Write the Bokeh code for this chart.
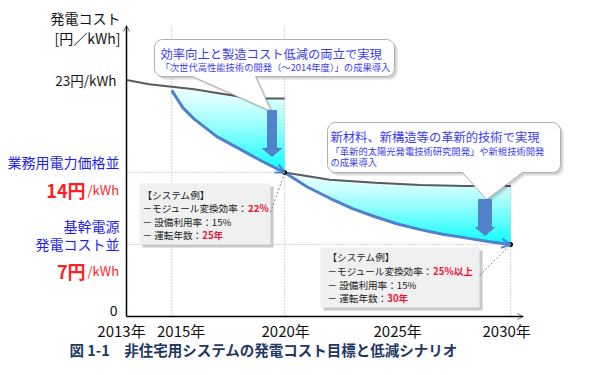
import numpy as np
from bokeh.plotting import figure
from bokeh.models import Arrow, OpenHead, Range1d
from bokeh.core.properties import value
from bokeh.embed import file_html
from bokeh.resources import INLINE

# ---------------- data ----------------
x_ticks = [2013, 2015, 2020, 2025, 2030]
x_tick_labels = ["2013年", "2015年", "2020年", "2025年", "2030年"]

price_years = [2013, 2014, 2015, 2016, 2017, 2018, 2019, 2020]
price_cost = [23.0, 22.6, 22.35, 22.1, 21.75, 21.4, 21.2, 21.2]

stage1_years = [2015, 2015.5, 2016, 2017, 2018, 2019, 2020]
stage1_cost = [22.0, 20.3, 19.2, 17.5, 16.3, 15.1, 14.0]

base2_years = [2020, 2022, 2024, 2026, 2028, 2030]
base2_cost = [14.0, 13.3, 13.0, 12.8, 12.7, 12.7]

stage2_years = [2020, 2021, 2022, 2023, 2024, 2025, 2026, 2027, 2028, 2029, 2030]
stage2_cost = [14.0, 12.6, 11.5, 10.5, 9.7, 9.0, 8.45, 8.0, 7.65, 7.3, 7.0]

start_cost = 23
target_2020 = 14
target_2030 = 7

# ---------------- geometry (screen px of the page) ----------------
SX0, XS = 134.0, 22.6     # screen x of 2013, px per year
SY0, YS = 324.0, 10.28    # screen y of 0, px per unit
W, H = 579, 359

def X(sx):
    return 2013 + (sx - SX0) / XS

def Y(sy):
    return (SY0 - sy) / YS

x_start = X(8); x_end = X(8 + W)
y_end = Y(8); y_start = Y(8 + H)

p = figure(width=W, height=H, x_range=Range1d(x_start, x_end), y_range=Range1d(y_start, y_end),
           output_backend="svg", toolbar_location=None, min_border=0,
           x_axis_type=None, y_axis_type=None, outline_line_color=None,
           background_fill_color="white", border_fill_color="white")
p.grid.visible = False

FONT = value("Noto Sans CJK JP")
BLUE = "#4F81CF"
GRAY = "#5A5A5A"
LBLUE = "#1E1EF0"
RED = "#FF1F1F"
CRED = "#E8153A"
CBLUE = "#3B3BF2"

# ---------------- gradient fills ----------------
def gradient_fill(xs_top, ys_top, xs_bot, ys_bot, x0, x1, n=36):
    xx = np.linspace(x0, x1, 300)
    top = np.interp(xx, xs_top, ys_top)
    bot = np.interp(xx, xs_bot, ys_bot)
    lo_all, hi_all = bot.min(), top.max()
    levels = np.linspace(lo_all, hi_all, n + 1)
    for k in range(n):
        lo, hi = levels[k], levels[k + 1] + (hi_all - lo_all) / n * 0.4
        y1 = np.clip(bot, lo, hi)
        y2 = np.clip(top, lo, hi)
        t = 1 - (k + 0.5) / n   # 1 at bottom, 0 at top
        t = t ** 1.25
        r = int(round(238 - 232 * t)); g = int(round(255 - 2 * t)); b = 255
        p.varea(x=xx, y1=y1, y2=y2, fill_color=(r, g, b))

gradient_fill(price_years, price_cost, stage1_years, stage1_cost, stage1_years[0], stage1_years[-1])
gradient_fill(base2_years, base2_cost, stage2_years, stage2_cost, stage2_years[0], stage2_years[-1])

# ---------------- dotted grid ----------------
grid_kw = dict(line_color="#A8A8A8", line_dash="1 2", line_width=1)
p.segment(x0=[x_ticks[1], x_ticks[2], x_ticks[4]], y0=[0, 0, 0],
          x1=[x_ticks[1], x_ticks[2], x_ticks[4]], y1=[Y(33), Y(33), base2_cost[-1]], **grid_kw)
p.segment(x0=[x_ticks[0], x_ticks[0]], y0=[target_2020, target_2030],
          x1=[x_ticks[2], x_ticks[4]], y1=[target_2020, target_2030], **grid_kw)
p.segment(x0=[X(487)], y0=[base2_cost[-1]], x1=[base2_years[-1]], y1=[base2_cost[-1]], **grid_kw)

# ---------------- lines ----------------
p.line(price_years, price_cost, line_color=GRAY, line_width=2)
p.line(base2_years, base2_cost, line_color=GRAY, line_width=2)
p.line(stage1_years, stage1_cost, line_color=BLUE, line_width=3)
p.line(stage2_years, stage2_cost, line_color=BLUE, line_width=3)
p.scatter([stage1_years[-1], stage2_years[-1]], [stage1_cost[-1], stage2_cost[-1]],
          size=4, color="black")

for yrs, cst in ((stage1_years, stage1_cost), (stage2_years, stage2_cost)):
    p.add_layout(Arrow(x_start=yrs[-2], y_start=cst[-2], x_end=yrs[-1], y_end=cst[-1],
                       line_alpha=0,
                       end=OpenHead(size=9, line_color=BLUE, line_width=2)))

# ---------------- system example boxes ----------------
def sbox(x0, y0, x1, y1):
    p.quad(left=[X(x0 + 3)], right=[X(x1 + 3)], top=[Y(y0 + 3)], bottom=[Y(y1 + 3)],
           fill_color="#C8C8C8", line_color=None)
    p.quad(left=[X(x0)], right=[X(x1)], top=[Y(y0)], bottom=[Y(y1)],
           fill_color="#F0F0F0", line_color=None)

sbox(147, 191, 278, 252)
sbox(328, 255, 487, 315)
p.segment(x0=[X(278), X(487)], y0=[Y(220), Y(283)],
          x1=[stage1_years[-1], stage2_years[-1]], y1=[stage1_cost[-1], stage2_cost[-1]],
          line_color="#8C8C8C", line_dash="2 2", line_width=1)

# ---------------- callouts ----------------
def bubble(x0, y0, x1, y1, r, tb0, tb1, tx, ty):
    pts = []
    def arc(cx, cy, a0, a1):
        for a in np.linspace(np.radians(a0), np.radians(a1), 8):
            pts.append((cx + r * np.cos(a), cy + r * np.sin(a)))
    arc(x1 - r, y0 + r, -90, 0)
    arc(x1 - r, y1 - r, 0, 90)
    pts.extend([(tb1, y1), (tx, ty), (tb0, y1)])
    arc(x0 + r, y1 - r, 90, 180)
    arc(x0 + r, y0 + r, 180, 270)
    return pts

def callout(*args):
    pts = bubble(*args)
    for dx, a in ((3.5, 0.07), (2, 0.12)):
        p.patch([X(a_ + dx) for a_, b_ in pts], [Y(b_ + dx) for a_, b_ in pts],
                fill_color="black", fill_alpha=a, line_color=None)
    p.patch([X(a_) for a_, b_ in pts], [Y(b_) for a_, b_ in pts],
            fill_color="white", line_color="#B0B0B0", line_width=1)

callout(162, 47, 402, 84, 8, 200, 263, 279, 119)
callout(335, 130, 568, 180, 8, 470, 530, 494, 207)

# ---------------- block arrows ----------------
def block_arrow(cx, y0, yb, ytip, sw, hw):
    xs = [cx - sw / 2, cx + sw / 2, cx + sw / 2, cx + hw / 2, cx, cx - hw / 2, cx - sw / 2]
    ys = [y0, y0, yb, yb, ytip, yb, yb]
    p.patch([X(v) for v in xs], [Y(v) for v in ys], fill_color="#5282CC",
            line_color="#4A76BC", line_width=0.8)

block_arrow(279.5, 118, 156, 164, 9, 19)
block_arrow(492.5, 207, 235, 243, 13, 19)

# ---------------- axes ----------------
p.add_layout(Arrow(x_start=x_ticks[0], y_start=0, x_end=X(531), y_end=0, line_width=1.5,
                   line_color="black", end=OpenHead(size=6, line_color="#777777", line_width=1)))
p.add_layout(Arrow(x_start=x_ticks[0], y_start=0, x_end=x_ticks[0], y_end=Y(33), line_width=1.5,
                   line_color="black", end=OpenHead(size=6, line_color="#777777", line_width=1)))

p.text(x=x_ticks, y=[0] * len(x_ticks), text=x_tick_labels, x_offset=[-5, 9.5, 1, 0, -4],
       y_offset=14, text_font=FONT, text_font_size="15px", text_color="#111111",
       text_align="center", text_baseline="middle")

def em(s):
    w = 0.0
    for c in s:
        if c == " ":
            w += 0.224
        elif c.isdigit():
            w += 0.553
        elif c == "%":
            w += 0.87
        elif ord(c) < 128:
            w += 0.55
        else:
            w += 1.0
    return w

def label(sx, sy, s, size, color, align="left", baseline="middle", bold=False):
    p.text(x=[X(sx)], y=[Y(sy)], text=[s], text_font=FONT, text_font_size=f"{size}px",
           text_color=color, text_align=align, text_baseline=baseline,
           text_font_style="bold" if bold else "normal")

# y-axis texts
label(128, 25, "発電コスト", 14, "#111111", align="right")
label(128, 45, "[円／kWh]", 14, "#111111", align="right")
p.text(x=[x_ticks[0]], y=[start_cost], text=["23円/kWh"], x_offset=-10, text_font=FONT,
       text_font_size="13.5px", text_color="#1A1A1A", text_align="right", text_baseline="middle")
p.text(x=[x_ticks[0]], y=[0], text=["0"], x_offset=-9, y_offset=-6, text_font=FONT,
       text_font_size="14px", text_color="#111111", text_align="right", text_baseline="middle")

def side(yv, dy, s, size, color, align, dx, baseline="middle", bold=False):
    p.text(x=[x_ticks[0]], y=[yv], text=[s], x_offset=dx, y_offset=dy, text_font=FONT,
           text_font_size=f"{size}px", text_color=color, text_align=align,
           text_baseline=baseline, text_font_style="bold" if bold else "normal")

side(target_2020, -11, "業務用電力価格並", 14, LBLUE, "right", -7)
side(target_2020, 17, "14円", 18, RED, "right", -41, "alphabetic", True)
side(target_2020, 17, "/kWh", 13, RED, "left", -39, "alphabetic")
side(target_2030, -19, "基幹電源", 14, LBLUE, "right", -7)
side(target_2030, -1, "発電コスト並", 14, LBLUE, "right", -7)
side(target_2030, 26, "7円", 18, RED, "right", -41, "alphabetic", True)
side(target_2030, 26, "/kWh", 13, RED, "left", -39, "alphabetic")

# callout texts
label(168, 61, "効率向上と製造コスト低減の両立で実現", 12.3, CBLUE)
label(168, 74.5, "「次世代高性能技術の開発（～2014年度）」の成果導入", 9.3, CBLUE)
label(338, 144, "新材料、新構造等の革新的技術で実現", 12.3, CBLUE)
label(338, 158, "「革新的太陽光発電技術研究開発」や新規技術開発", 9.3, CBLUE)
label(338, 169.5, "の成果導入", 9.3, CBLUE)

# system example texts
FS = 9.6
def sys_lines(x0, ys, eff):
    label(x0, ys[0], "【システム例】", FS, "#1A1A1A")
    a = "－モジュール変換効率："
    label(x0, ys[1], a, FS, "#1A1A1A")
    label(x0 + em(a) * FS, ys[1], eff, FS, CRED, bold=True)
    label(x0, ys[2], "－ 設備利用率：15%", FS, "#1A1A1A")
    b = "－ 運転年数："
    label(x0, ys[3], b, FS, "#1A1A1A")
    return b

b = sys_lines(150, [202, 215.5, 229, 242], "22%")
label(150 + em(b) * FS, 242, "25年", FS, CRED, bold=True)
b = sys_lines(335, [264, 278, 292, 305], "25%以上")
label(335 + em(b) * FS, 305, "30年", FS, CRED, bold=True)

# caption
label(77, 357, "図 1-1　非住宅用システムの発電コスト目標と低減シナリオ", 14.5, "#1F3864", bold=True)

open("out.html", "w").write(file_html(p, INLINE))
